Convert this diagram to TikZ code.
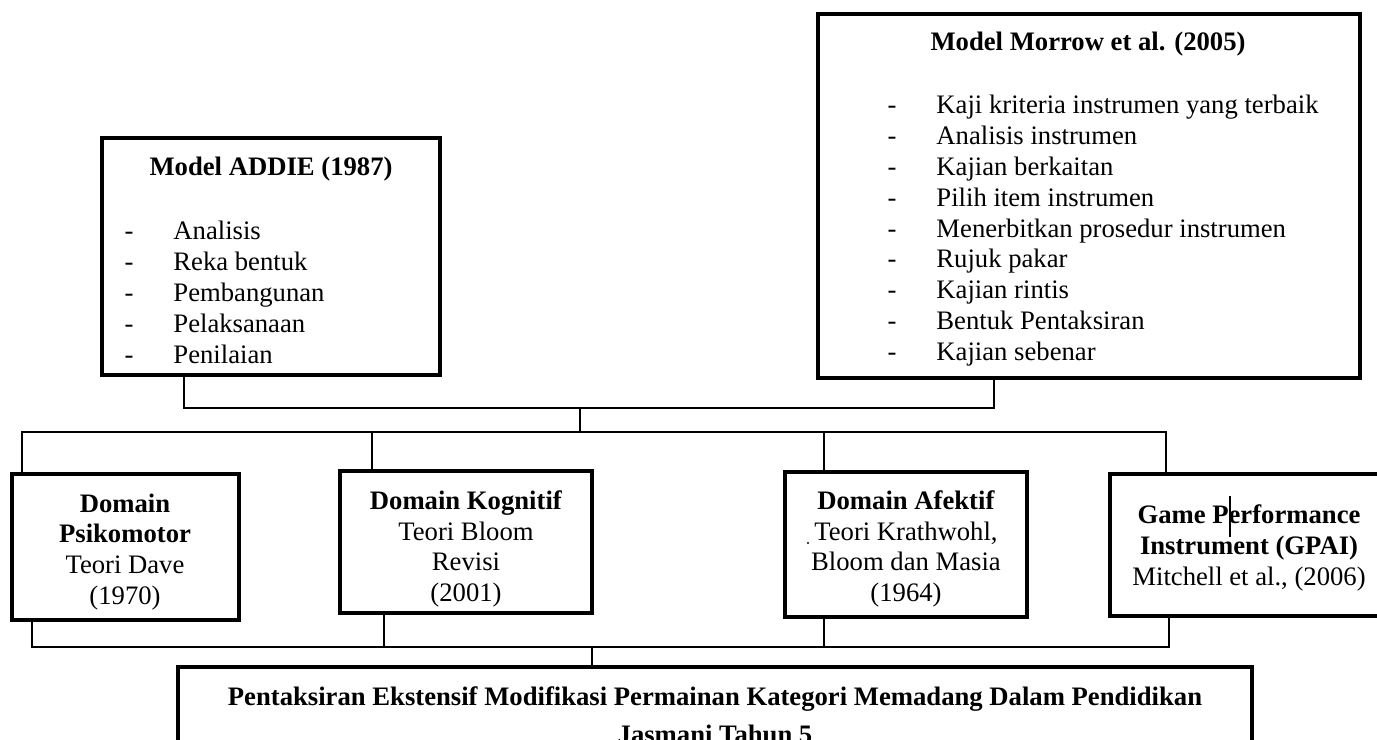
\documentclass[tikz,border=0pt]{standalone}
\usepackage{fontspec}
\setmainfont{Liberation Serif}
\usetikzlibrary{positioning,fit}

\begin{document}
\begin{tikzpicture}[x=0.45pt, y=-0.45pt,
  box/.style={draw, line width=1.8pt, inner sep=0pt},
  link/.style={line width=0.8pt},
  every node/.append style={font=\fontsize{12}{13.9}\selectfont},
  head/.style={anchor=base, inner sep=0pt, font=\fontsize{12}{13.9}\selectfont\bfseries},
  bullet/.style={anchor=base, inner sep=0pt},
  item/.style={anchor=base west, inner sep=0pt},
  blurb/.style={align=center, inner sep=0pt},
  ]
  \useasboundingbox (0,0) rectangle (1377,740);

  % upper models
  \node[box, fit={(102,138) (440,375)}] (addie) {};
  \node[box, fit={(818,14) (1360,378)}] (morrow) {};
  \node[head] (addiet) at (271,176) {Model ADDIE (1987)};
  \foreach \t [count=\i] in {Analisis, Reka bentuk, Pembangunan, Pelaksanaan, Penilaian}{
    \node[bullet] (addied\i) at (129,209+31*\i) {-};
    \node[item] (addiei\i) at (173,209+31*\i) {\t};
  }
  \node[head] (morrowt) at (1088,51) {Model Morrow et al. (2005)};
  \foreach \t [count=\i] in {Kaji kriteria instrumen yang terbaik, Analisis instrumen,
      Kajian berkaitan, Pilih item instrumen, Menerbitkan prosedur instrumen,
      Rujuk pakar, Kajian rintis, Bentuk Pentaksiran, Kajian sebenar}{
    \node[bullet] (morrowd\i) at (892,83.2+30.8*\i) {-};
    \node[item] (morrowi\i) at (936,83.2+30.8*\i) {\t};
  }

  % domain boxes
  \node[box, fit={(12,474) (239,620)}] (psiko) {};
  \node[box, fit={(340,471) (592,613)}] (kog) {};
  \node[box, fit={(785,472) (1027,617)}] (afek) {};
  \node[box, fit={(1110,474) (1388,616)}] (gpai) {};
  \node[blurb] (psikot) at (125,552) {\textbf{Domain}\\\textbf{Psikomotor}\\Teori Dave\\(1970)};
  \node[blurb] (kogt) at (466,549) {\textbf{Domain Kognitif}\\Teori Bloom\\Revisi\\(2001)};
  \node[blurb] (afekt) at (906,549) {\textbf{Domain Afektif}\\Teori Krathwohl,\\Bloom dan Masia\\(1964)};
  \node[blurb] (gpait) at (1249,548) {\textbf{Game Performance}\\\textbf{Instrument (GPAI)}\\Mitchell et al., (2006)};
  \draw[line width=0.5pt] (1230,496) -- (1230,537);
  \fill (808,543) circle (1.2);

  % final box
  \node[box, fit={(178,667) (1252,800)}] (final) {};
  \node[blurb] (finalt) at (715,715) {\textbf{Pentaksiran Ekstensif Modifikasi Permainan Kategori Memadang Dalam Pendidikan}\\[3pt]\textbf{Jasmani Tahun 5}};

  % connectors
  \coordinate (jA) at (580,408);
  \coordinate (jB) at (580,432);
  \coordinate (jC) at (592,647);
  \draw[link] (addie.south -| 184,0) |- (jA) -| (morrow.south -| 994,0);
  \draw[link] (jA) -- (jB);
  \draw[link] (psiko.north -| 22,0) |- (jB) -| (gpai.north -| 1166,0);
  \draw[link] (jB -| 372,0) -- (kog.north -| 372,0);
  \draw[link] (jB -| 824,0) -- (afek.north -| 824,0);
  \draw[link] (psiko.south -| 32,0) |- (jC) -| (gpai.south -| 1169,0);
  \draw[link] (kog.south -| 384,0) -- (jC -| 384,0);
  \draw[link] (afek.south -| 824,0) -- (jC -| 824,0);
  \draw[link] (jC) -- (final.north -| jC);
\end{tikzpicture}
\end{document}
